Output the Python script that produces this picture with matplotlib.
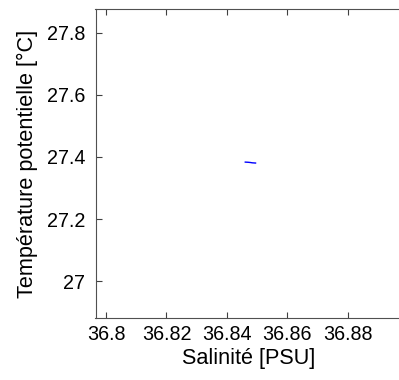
import matplotlib
matplotlib.use('Agg')
import matplotlib.pyplot as plt

# profile points (salinity, potential temperature)
salinity = [36.8461, 36.8470, 36.8478, 36.8484, 36.8495]
theta = [27.3835, 27.3830, 27.3822, 27.3812, 27.3805]

xticks = [36.80, 36.82, 36.84, 36.86, 36.88]
xticklabels = ['36.8', '36.82', '36.84', '36.86', '36.88']
yticks = [27.0, 27.2, 27.4, 27.6, 27.8]
yticklabels = ['27', '27.2', '27.4', '27.6', '27.8']

plt.rcParams['font.family'] = ['Liberation Sans', 'DejaVu Sans']

fig = plt.figure(figsize=(3.99, 3.8), dpi=100)
ax = fig.add_axes([95.5/399, 1 - 318/380, (402-95.5)/399, (318-9)/380])

ax.plot(salinity, theta, color='#0000ff', lw=1)

ax.set_xlim(36.7965, 36.898)
ax.set_ylim(26.881, 27.877)
ax.set_xticks(xticks)
ax.set_xticklabels(xticklabels)
ax.set_yticks(yticks)
ax.set_yticklabels(yticklabels)
ax.tick_params(direction='in', length=4, width=0.8, color='#404040',
               top=True, right=False, labelsize=14.2)
ax.tick_params(axis='x', pad=5)
ax.tick_params(axis='y', pad=7.5)
for s in ax.spines.values():
    s.set_color('#505050')
    s.set_linewidth(0.8)

ax.set_xlabel('Salinité [PSU]', fontsize=15.6, labelpad=3)
ax.set_ylabel('Température potentielle [°C]', fontsize=15.6, labelpad=6)

fig.savefig('out.png', dpi=100)
